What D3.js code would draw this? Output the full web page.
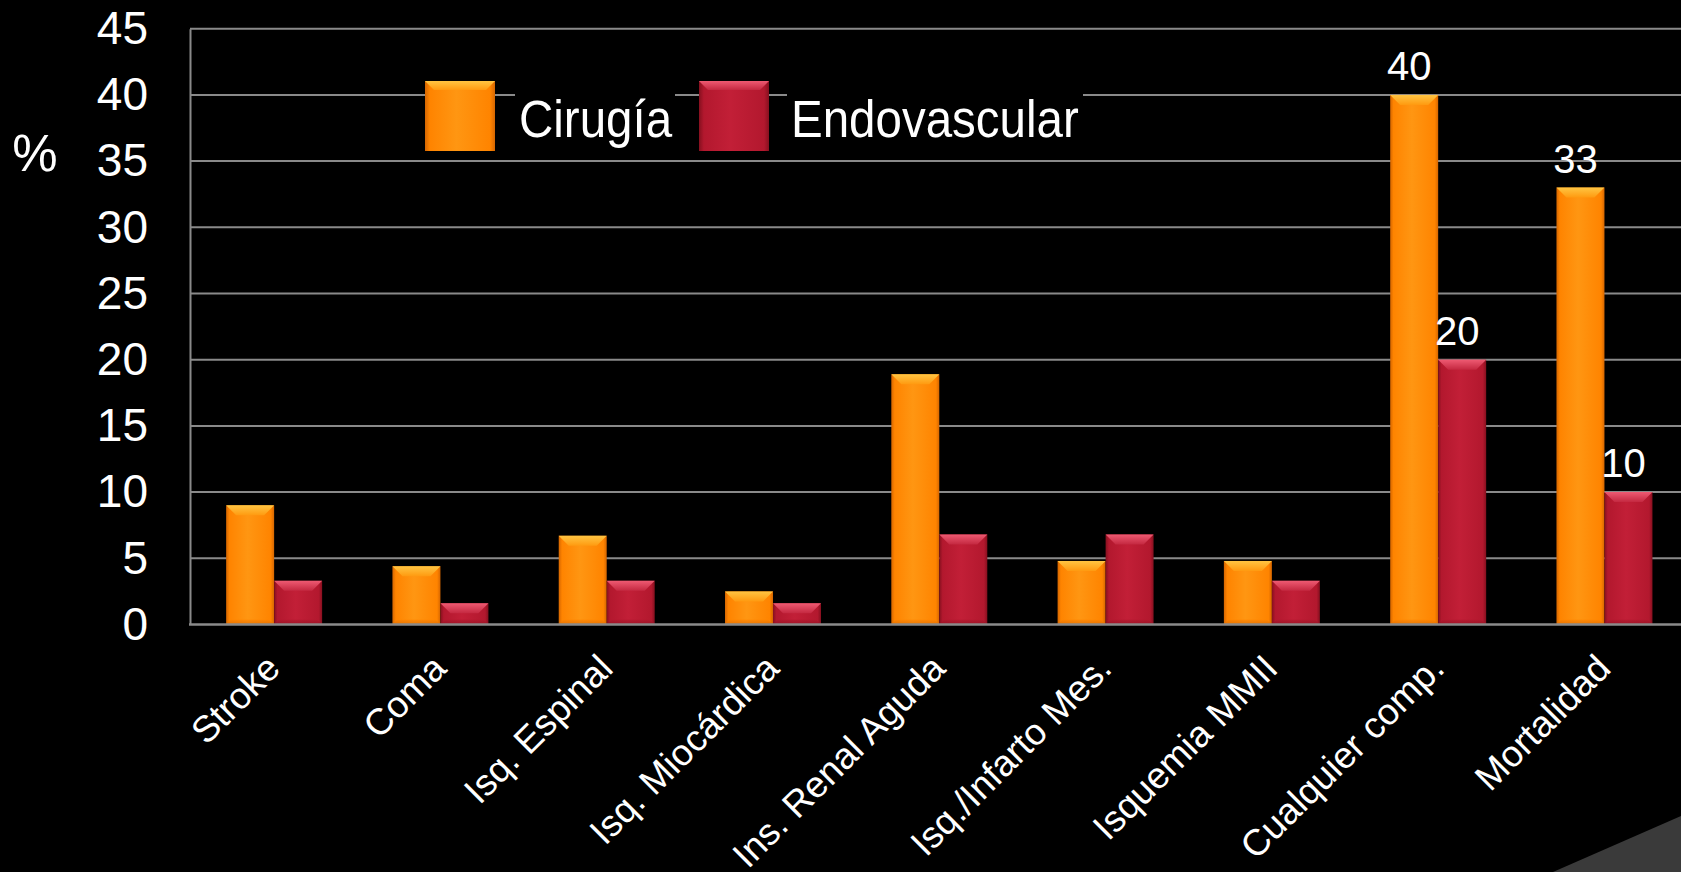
<!DOCTYPE html>
<html>
<head>
<meta charset="utf-8">
<script src="https://cdn.jsdelivr.net/npm/d3@7/dist/d3.min.js"></script>
<style>
  html, body { margin: 0; padding: 0; background: #000; overflow: hidden; }
  svg { display: block; }
  text { font-family: Arial, "Liberation Sans", sans-serif; fill: #fff; }
</style>
</head>
<body>
<svg id="chart" width="1681" height="872"></svg>
<script>
// Complicaciones: cirugía abierta vs. tratamiento endovascular (%)
const categories = [
  "Stroke", "Coma", "Isq. Espinal", "Isq. Miocárdica", "Ins. Renal Aguda",
  "Isq./Infarto Mes.", "Isquemia MMII", "Cualquier comp.", "Mortalidad"
];
const seriesNames = ["Cirugía", "Endovascular"];
const cirugia      = [9, 4.4, 6.7, 2.5, 18.9, 4.8, 4.8, 40, 33];
const endovascular = [3.3, 1.6, 3.3, 1.6, 6.8, 6.8, 3.3, 20, 10];
const yTicks = [0, 5, 10, 15, 20, 25, 30, 35, 40, 45];
const labelledCategories = ["Cualquier comp.", "Mortalidad"];

const seriesValues = { "Cirugía": cirugia, "Endovascular": endovascular };
const palette = {
  "Cirugía":      { main: "#ff8400", light: "#ff9612", edge: "#d66600", top: "#ffc542", topDark: "#ff9a10" },
  "Endovascular": { main: "#b3182e", light: "#c21f37", edge: "#86101f", top: "#ee5a72", topDark: "#c42840" }
};

const svg = d3.select("#chart");
const plotLeft = 191, plotRight = 1687.6, plotTop = 28.7, plotBottom = 624.5;

const x0 = d3.scaleBand().domain(categories).range([plotLeft, plotRight])
  .paddingInner(0.4227).paddingOuter(0.2113);
const x1 = d3.scaleBand().domain(seriesNames).range([0, x0.bandwidth()]);
const y = d3.scaleLinear().domain([0, 45]).range([plotBottom, plotTop]);

// gradients for the bevelled bars
const defs = svg.append("defs");
seriesNames.forEach((s, i) => {
  const c = palette[s];
  const g = defs.append("linearGradient").attr("id", "body" + i)
    .attr("x1", 0).attr("x2", 1).attr("y1", 0).attr("y2", 0);
  [[0, c.edge], [0.07, c.main], [0.45, c.light], [0.93, c.main], [1, c.edge]]
    .forEach(([o, col]) => g.append("stop").attr("offset", o).attr("stop-color", col));
  const t = defs.append("linearGradient").attr("id", "top" + i)
    .attr("x1", 0).attr("x2", 0).attr("y1", 0).attr("y2", 1);
  [[0, c.top], [1, c.topDark]]
    .forEach(([o, col]) => t.append("stop").attr("offset", o).attr("stop-color", col));
  const b = defs.append("linearGradient").attr("id", "bot" + i)
    .attr("x1", 0).attr("x2", 0).attr("y1", 0).attr("y2", 1);
  [[0, c.main], [1, c.edge]]
    .forEach(([o, col]) => b.append("stop").attr("offset", o).attr("stop-color", col));
});

// slide decoration in the lower right corner
svg.append("path")
  .attr("d", "M1553,872 L1681,816 L1681,872 Z")
  .attr("fill", "#3a3a3a");

// gridlines
svg.append("g").selectAll("line").data(yTicks.filter(t => t > 0)).join("line")
  .attr("x1", plotLeft - 1).attr("x2", plotRight)
  .attr("y1", d => y(d)).attr("y2", d => y(d))
  .attr("stroke", "#8a8a8a").attr("stroke-width", 2);

// y axis with tick labels
const yAxis = svg.append("g").attr("transform", `translate(${plotLeft - 1},0)`)
  .call(d3.axisLeft(y).tickValues(yTicks).tickSize(0).tickPadding(42));
yAxis.select(".domain").attr("stroke", "#8a8a8a").attr("stroke-width", 2);
yAxis.selectAll("text")
  .attr("fill", "#fff").attr("font-size", 46)
  .attr("font-family", "Arial, 'Liberation Sans', sans-serif");

svg.append("text").attr("x", 35).attr("y", 171)
  .attr("text-anchor", "middle").attr("font-size", 51).text("%");

// bars
const groups = svg.append("g").selectAll("g").data(categories).join("g")
  .attr("transform", d => `translate(${x0(d)},0)`);

seriesNames.forEach((s, si) => {
  const vals = seriesValues[s];
  const bars = groups.append("g").datum((d, i) => ({ cat: d, v: vals[i] }));
  const w = x1.bandwidth();
  const bx = x1(s);
  bars.append("rect")
    .attr("x", bx).attr("width", w)
    .attr("y", d => y(d.v)).attr("height", d => y(0) - y(d.v))
    .attr("fill", `url(#body${si})`);
  bars.append("path")
    .attr("d", d => {
      const yt = y(d.v), h = y(0) - yt, b = Math.min(10, h / 2);
      return `M${bx},${yt} L${bx + w},${yt} L${bx + w - b},${yt + b} L${bx + b},${yt + b} Z`;
    })
    .attr("fill", `url(#top${si})`);
  bars.append("path")
    .attr("d", d => {
      const yb = y(0), h = y(0) - y(d.v), b = Math.min(5, h / 4);
      return `M${bx + b},${yb - b} L${bx + w - b},${yb - b} L${bx + w},${yb} L${bx},${yb} Z`;
    })
    .attr("fill", `url(#bot${si})`).attr("opacity", 0.6);
  bars.filter(d => labelledCategories.includes(d.cat)).append("text")
    .attr("x", bx + w / 2 - 5).attr("y", d => y(d.v) - 15)
    .attr("text-anchor", "middle").attr("font-size", 40)
    .text(d => d3.format("d")(d.v));
});

// baseline
svg.append("line").attr("x1", plotLeft - 2).attr("x2", plotRight)
  .attr("y1", y(0)).attr("y2", y(0))
  .attr("stroke", "#8a8a8a").attr("stroke-width", 2.5);

// category labels, rotated
svg.append("g").selectAll("text").data(categories).join("text")
  .attr("transform", d => `translate(${x0(d) + x0.bandwidth() / 2 + 8},${y(0) + 46}) rotate(-45)`)
  .attr("text-anchor", "end").attr("font-size", 37)
  .text(d => d);

// legend
const legend = svg.append("g");
const legendItems = [
  { name: "Cirugía", sx: 425, tx: 519, tw: 152 },
  { name: "Endovascular", sx: 699, tx: 791, tw: 288 }
];
legendItems.forEach((it, i) => {
  legend.append("rect").attr("x", it.tx - 4).attr("y", 84).attr("width", it.tw + 8).attr("height", 64)
    .attr("fill", "#000");
  const g = legend.append("g");
  g.append("rect").attr("x", it.sx).attr("y", 81).attr("width", 70).attr("height", 70)
    .attr("fill", `url(#body${i})`);
  g.append("path")
    .attr("d", `M${it.sx},81 L${it.sx + 70},81 L${it.sx + 61},90 L${it.sx + 9},90 Z`)
    .attr("fill", `url(#top${i})`);
  legend.append("text")
    .attr("transform", `translate(${it.tx},137) scale(1,1.08)`)
    .attr("font-size", 47.5).text(it.name);
});
</script>
</body>
</html>
